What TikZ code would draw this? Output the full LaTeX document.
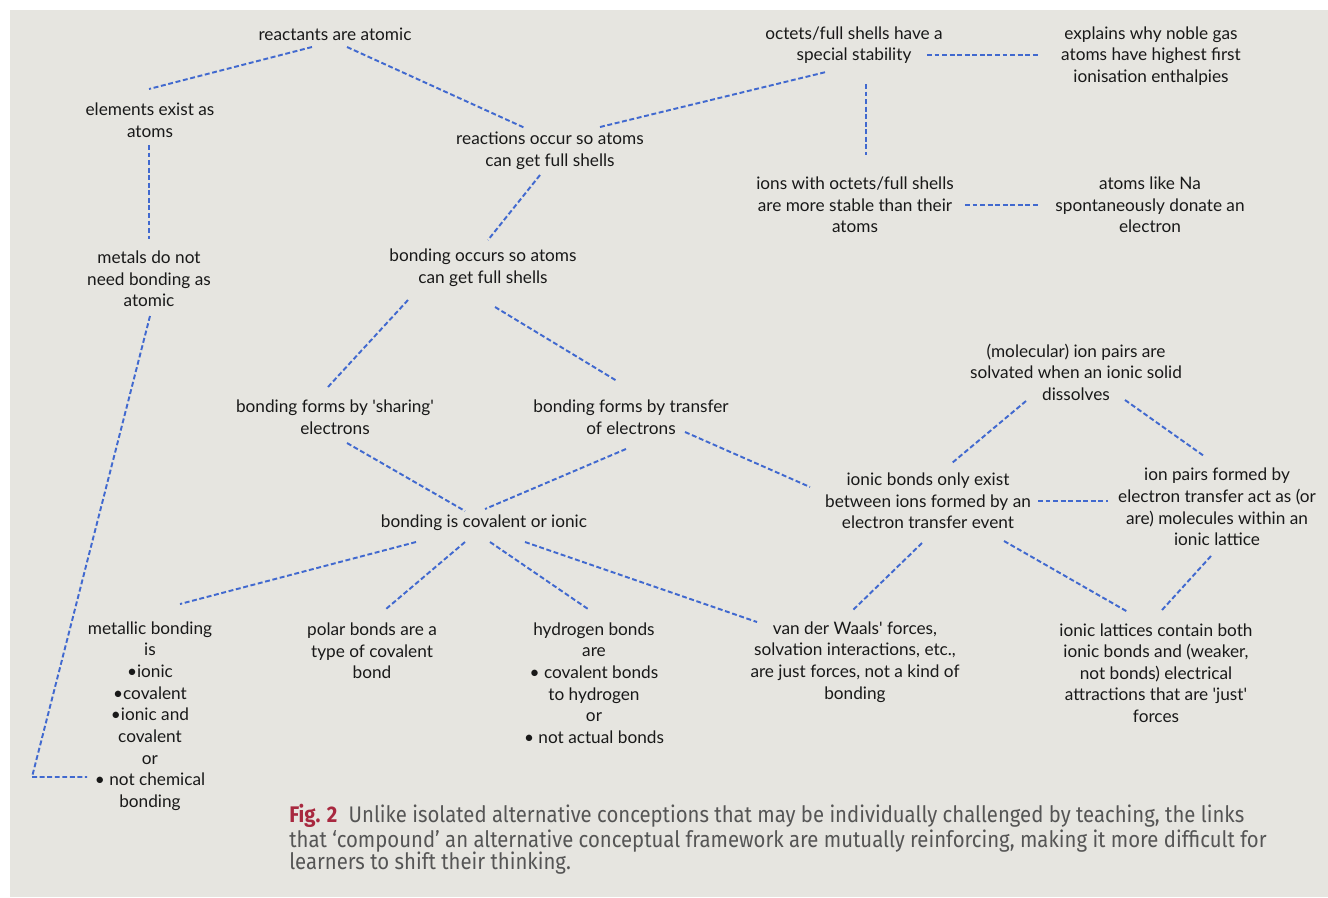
\documentclass[tikz,border=0pt]{standalone}
\usepackage{fontspec}
\setmainfont{Lato}
\newfontfamily\capfont[FakeStretch=0.9]{Fira Sans}

\definecolor{linkblue}{HTML}{4169CF}
\definecolor{paper}{HTML}{E6E5E0}
\definecolor{figred}{HTML}{A8283F}
\definecolor{captext}{HTML}{555555}

\begin{document}
\begin{tikzpicture}[
  x=0.02cm, y=-0.02cm,
  font=\fontsize{9.8}{12.3}\selectfont,
  idea/.style={align=center, inner sep=0pt, text=black!90},
  link/.style={draw=linkblue, line width=1.1pt, dash pattern=on 2.8pt off 1.5pt},
  caption/.style={align=left, inner sep=0pt, text=captext,
    font=\capfont\fontsize{12.85}{12.8}\selectfont}
]
  % paper
  \fill[white] (0,0) rectangle (1328,897);
  \fill[paper] (10,10) rectangle (1328,897);

  % top row
  \node[idea] (react) at (335,34) {reactants are atomic};
  \node[idea] (octet) at (854,45) {octets/full shells have a\\special stability};
  \node[idea] (noble) at (1151,56) {explains why noble gas\\atoms have highest first\\ionisation enthalpies};
  \node[idea] (elem) at (150,120) {elements exist as\\atoms};
  \node[idea] (reac) at (550,151) {reactions occur so atoms\\can get full shells};
  \node[idea] (ions) at (855,205) {ions with octets/full shells\\are more stable than their\\atoms};
  \node[idea] (na) at (1150,205) {atoms like Na\\spontaneously donate an\\electron};
  \node[idea] (metals) at (149,279) {metals do not\\need bonding as\\atomic};
  \node[idea] (bondocc) at (483,268) {bonding occurs so atoms\\can get full shells};

  % middle
  \node[idea] (solv) at (1076,372) {(molecular) ion pairs are\\solvated when an ionic solid\\dissolves};
  \node[idea] (share) at (335,417) {bonding forms by \textquotesingle sharing\textquotesingle\\electrons};
  \node[idea] (transf) at (631,417) {bonding forms by transfer\\of electrons};
  \node[idea] (ionic) at (928,501) {ionic bonds only exist\\between ions formed by an\\electron transfer event};
  \node[idea] (pairs) at (1217,507) {ion pairs formed by\\electron transfer act as (or\\are) molecules within an\\ionic lattice};
  \node[idea] (covion) at (484,523) {bonding is covalent or ionic};

  % bottom row
  \node[idea] (metallic) at (150,716) {metallic bonding\\is\\\textbullet ionic\\\textbullet covalent\\\textbullet ionic and\\covalent\\or\\\textbullet\ not chemical\\bonding};
  \node[idea] (polar) at (372,651) {polar bonds are a\\type of covalent\\bond};
  \node[idea] (hydro) at (594,683) {hydrogen bonds\\are\\\textbullet\ covalent bonds\\to hydrogen\\or\\\textbullet\ not actual bonds};
  \node[idea] (vdw) at (855,662) {van der Waals\textquotesingle\ forces,\\solvation interactions, etc.,\\are just forces, not a kind of\\bonding};
  \node[idea] (lattice) at (1156,673) {ionic lattices contain both\\ionic bonds and (weaker,\\not bonds) electrical\\attractions that are \textquotesingle just\textquotesingle\\forces};
  \coordinate (bend) at (32,777);

  % links
  \draw[link] ([shift={(-23,13)}]react.center) -- ([shift={(-1,-31)}]elem.center);
  \draw[link] ([shift={(12,13)}]react.center) -- ([shift={(-25,-23)}]reac.center);
  \draw[link] ([shift={(50,-24)}]reac.center) -- ([shift={(-28,27)}]octet.center);
  \draw[link] ([shift={(73,10)}]octet.center) -- ([shift={(-111,-1)}]noble.center);
  \draw[link] ([shift={(12,39)}]octet.center) -- ([shift={(11,-50)}]ions.center);
  \draw[link] ([shift={(110,0)}]ions.center) -- ([shift={(-110,0)}]na.center);
  \draw[link] ([shift={(-1,25)}]elem.center) -- ([shift={(0,-40)}]metals.center);
  \draw[link] ([shift={(-10,24)}]reac.center) -- ([shift={(5,-28)}]bondocc.center);
  \draw[link] ([shift={(-75,32)}]bondocc.center) -- ([shift={(-7,-30)}]share.center);
  \draw[link] ([shift={(12,39)}]bondocc.center) -- ([shift={(-14,-36)}]transf.center);
  \draw[link] ([shift={(12,26)}]share.center) -- ([shift={(-19,-12)}]covion.center);
  \draw[link] ([shift={(-5,32)}]transf.center) -- ([shift={(1,-14)}]covion.center);
  \draw[link] ([shift={(54,15)}]transf.center) -- ([shift={(-118,-14)}]ionic.center);
  \draw[link] ([shift={(-50,29)}]solv.center) -- ([shift={(24,-38)}]ionic.center);
  \draw[link] ([shift={(49,28)}]solv.center) -- ([shift={(-13,-51)}]pairs.center);
  \draw[link] ([shift={(110,0)}]ionic.center) -- ([shift={(-109,-6)}]pairs.center);
  \draw[link] ([shift={(-68,19)}]covion.center) -- ([shift={(30,-112)}]metallic.center);
  \draw[link] ([shift={(-19,19)}]covion.center) -- ([shift={(14,-42)}]polar.center);
  \draw[link] ([shift={(6,19)}]covion.center) -- ([shift={(-6,-74)}]hydro.center);
  \draw[link] ([shift={(41,19)}]covion.center) -- ([shift={(-98,-40)}]vdw.center);
  \draw[link] ([shift={(-6,42)}]ionic.center) -- ([shift={(-2,-52)}]vdw.center);
  \draw[link] ([shift={(76,40)}]ionic.center) -- ([shift={(-28,-61)}]lattice.center);
  \draw[link] ([shift={(-6,49)}]pairs.center) -- ([shift={(6,-63)}]lattice.center);
  \draw[link] ([shift={(1,37)}]metals.center) -- (bend) -- ([shift={(-63,61)}]metallic.center);

  % caption
  \node[caption, anchor=north west] (cap) at (289,804)
    {{\bfseries\color{figred}Fig. 2}\enspace Unlike isolated alternative conceptions that may be individually challenged by teaching, the links\\
     that \textquoteleft compound\textquoteright\ an alternative conceptual framework are mutually reinforcing, making it more difficult for\\
     learners to shift their thinking.};
\end{tikzpicture}
\end{document}
